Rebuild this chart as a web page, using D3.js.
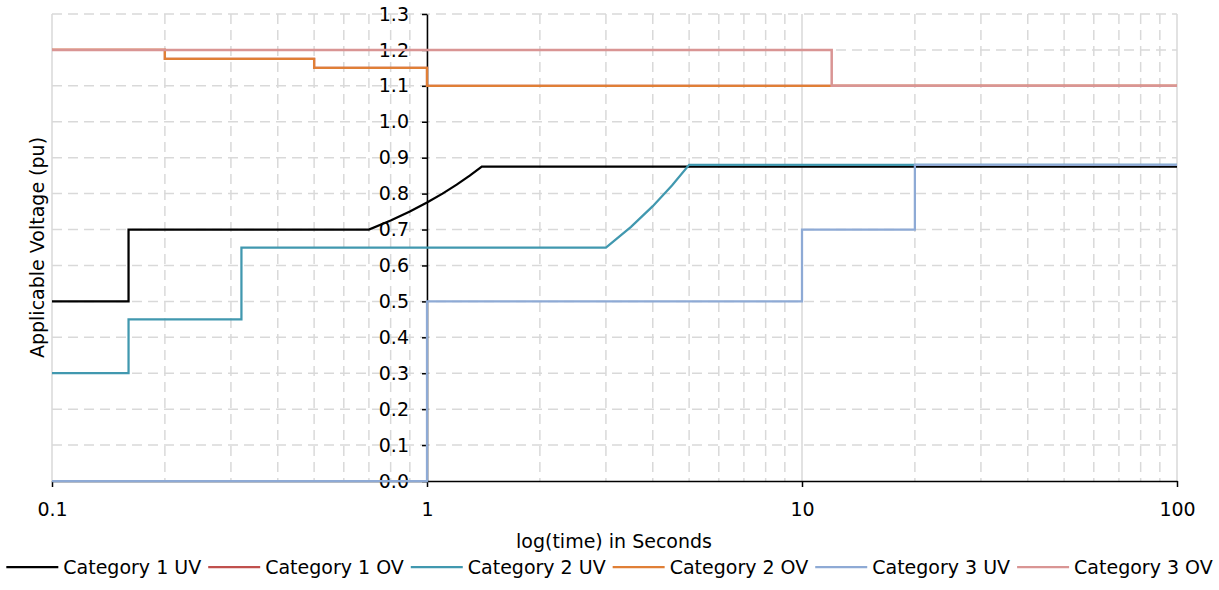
<!DOCTYPE html>
<html>
<head>
<meta charset="utf-8">
<script src="https://cdn.jsdelivr.net/npm/d3@7"></script>
<style>
  body { margin: 0; background: #fff; }
  svg { display: block; font-family: "DejaVu Sans", sans-serif; }
</style>
</head>
<body>
<svg width="1219" height="590"></svg>
<script>
// Chart data (time in seconds, voltage in pu)
const seriesNames = ["Category 1 UV", "Category 1 OV", "Category 2 UV", "Category 2 OV", "Category 3 UV", "Category 3 OV"];
const seriesColors = ["#000000", "#c0504d", "#4198af", "#e07f36", "#8eaad5", "#d99594"];

const cat1UV = [[0.1, 0.5], [0.16, 0.5], [0.16, 0.7], [0.7, 0.7], [0.8, 0.725], [0.9, 0.75], [1.0, 0.775],
                [1.1, 0.8], [1.2, 0.825], [1.3, 0.85], [1.4, 0.875], [100, 0.875]];
const cat1OV = [[0.1, 1.2], [0.2, 1.2], [0.2, 1.175], [0.5, 1.175], [0.5, 1.15], [1, 1.15], [1, 1.1], [100, 1.1]];
const cat2UV = [[0.1, 0.3], [0.16, 0.3], [0.16, 0.45], [0.32, 0.45], [0.32, 0.65], [3, 0.65], [3.5, 0.7075],
                [4, 0.765], [4.5, 0.8225], [5, 0.88], [100, 0.88]];
const cat2OV = [[0.1, 1.2], [0.2, 1.2], [0.2, 1.175], [0.5, 1.175], [0.5, 1.15], [1, 1.15], [1, 1.1], [100, 1.1]];
const cat3UV = [[0.1, 0], [1, 0], [1, 0.5], [10, 0.5], [10, 0.7], [20, 0.7], [20, 0.88], [100, 0.88]];
const cat3OV = [[0.1, 1.2], [12, 1.2], [12, 1.1], [100, 1.1]];
const allSeries = [cat1UV, cat1OV, cat2UV, cat2OV, cat3UV, cat3OV];

const xTicks = [0.1, 1, 10, 100];
const yTicks = d3.range(0, 14).map(i => i / 10);

const svg = d3.select("svg");
const plotLeft = 52, plotRight = 1177, plotTop = 14, plotBottom = 481;
const fontSize = 19;

const x = d3.scaleLog().domain([0.1, 100]).range([plotLeft, plotRight]);
const y = d3.scaleLinear().domain([0, 1.3]).range([plotBottom, plotTop]);

const grid = svg.append("g");

// Minor vertical gridlines (dashed) at 2..9 of each decade
const minor = [];
[0.1, 1, 10].forEach(d => { for (let k = 2; k <= 9; k++) minor.push(d * k); });
grid.selectAll(".vminor").data(minor).join("line")
    .attr("x1", d => x(d)).attr("x2", d => x(d))
    .attr("y1", plotTop).attr("y2", plotBottom)
    .attr("stroke", "#d9d9d9").attr("stroke-width", 1.5)
    .attr("stroke-dasharray", "10,6");

// Horizontal gridlines (dashed)
grid.selectAll(".h").data(yTicks.slice(1)).join("line")
    .attr("x1", plotLeft).attr("x2", plotRight)
    .attr("y1", d => y(d)).attr("y2", d => y(d))
    .attr("stroke", "#d9d9d9").attr("stroke-width", 1.5)
    .attr("stroke-dasharray", "10,6");

// Major vertical gridlines (solid)
grid.selectAll(".vmajor").data(xTicks).join("line")
    .attr("x1", d => x(d)).attr("x2", d => x(d))
    .attr("y1", plotTop).attr("y2", plotBottom)
    .attr("stroke", "#d9d9d9").attr("stroke-width", 1.5);

// X axis along y = 0
const xAxis = svg.append("g")
    .attr("transform", `translate(0,${plotBottom})`)
    .call(d3.axisBottom(x).tickValues(xTicks).tickFormat(d3.format("")).tickSize(6).tickPadding(16).tickSizeOuter(0));
xAxis.select(".domain").attr("stroke", "#000").attr("stroke-width", 1.5);
xAxis.selectAll(".tick line").attr("stroke", "#000").attr("stroke-width", 1.5);
xAxis.selectAll("text").attr("font-size", fontSize).attr("fill", "#000")
    .attr("font-family", "DejaVu Sans, sans-serif");

// Y axis crossing at t = 1
const yAxis = svg.append("g")
    .attr("transform", `translate(${x(1)},0)`)
    .call(d3.axisLeft(y).tickValues(yTicks).tickFormat(d3.format(".1f")).tickSize(5).tickPadding(13).tickSizeOuter(0));
yAxis.select(".domain").attr("stroke", "#000").attr("stroke-width", 1.5);
yAxis.selectAll(".tick line").attr("stroke", "#000").attr("stroke-width", 1.5);
yAxis.selectAll("text").attr("font-size", fontSize).attr("fill", "#000")
    .attr("font-family", "DejaVu Sans, sans-serif");

// Series lines
const line = d3.line().x(d => x(d[0])).y(d => y(d[1]));
allSeries.forEach((data, i) => {
    svg.append("path")
        .datum(data)
        .attr("d", line)
        .attr("fill", "none")
        .attr("stroke", seriesColors[i])
        .attr("stroke-width", i === 5 ? 2.5 : 2.25)
        .attr("stroke-linejoin", "miter");
});

// Axis titles
svg.append("text")
    .attr("x", 614).attr("y", 548)
    .attr("text-anchor", "middle").attr("font-size", fontSize)
    .text("log(time) in Seconds");

svg.append("text")
    .attr("transform", `translate(44,${(plotTop + plotBottom) / 2}) rotate(-90)`)
    .attr("text-anchor", "middle").attr("font-size", fontSize)
    .text("Applicable Voltage (pu)");

// Legend
const legend = svg.append("g");
const lineLen = 52, textGap = 5, itemGap = 7;
let lx = 0;
seriesNames.forEach((name, i) => {
    const g = legend.append("g").attr("transform", `translate(${lx},0)`);
    g.append("line").attr("x1", 0).attr("x2", lineLen).attr("y1", 0).attr("y2", 0)
        .attr("stroke", seriesColors[i]).attr("stroke-width", 2.25);
    const t = g.append("text").attr("x", lineLen + textGap).attr("y", 7)
        .attr("font-size", fontSize).text(name);
    lx += lineLen + textGap + t.node().getComputedTextLength() + itemGap;
});
const legendWidth = lx - itemGap;
legend.attr("transform", `translate(${(1219 - legendWidth) / 2},567)`);
</script>
</body>
</html>
